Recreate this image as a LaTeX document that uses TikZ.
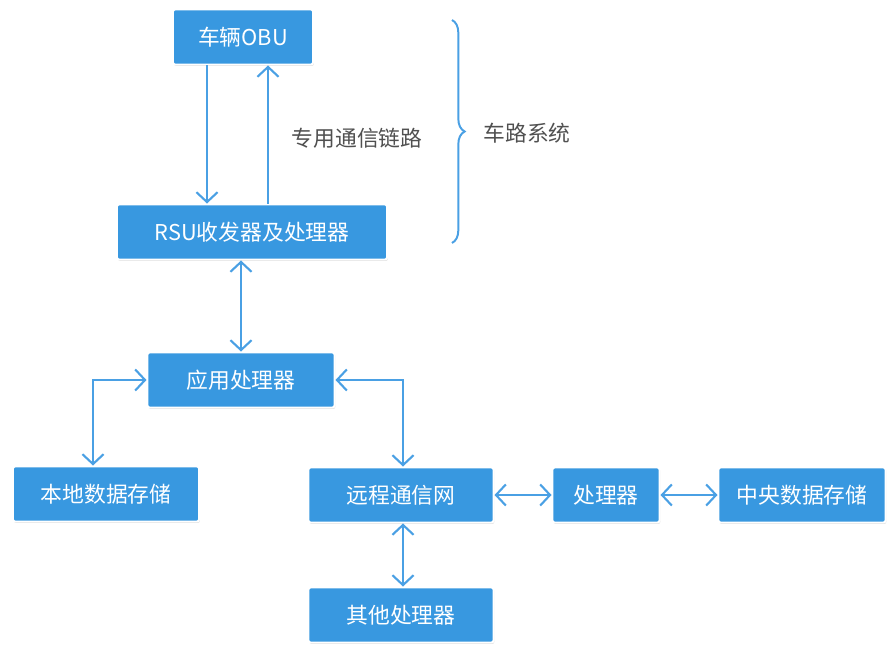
\documentclass[tikz,border=0pt]{standalone}
\usepackage{fontspec}
\newfontfamily\cjk{Noto Sans CJK SC}
\usetikzlibrary{arrows.meta,shadows,decorations.pathreplacing}
\definecolor{boxblue}{RGB}{56,152,224}
\definecolor{lineblue}{RGB}{74,160,228}
\definecolor{labelgray}{RGB}{80,80,80}
\begin{document}
\begin{tikzpicture}[
	x=0.025cm, y=-0.025cm,
	font=\cjk\fontsize{15.5}{18}\selectfont,
	block/.style = {draw=white, line width=1.4pt, fill=boxblue, text=white,
		rounded corners=1.5pt, minimum height=1.375cm, inner sep=2pt,
		drop shadow={shadow xshift=0.6pt, shadow yshift=-1pt, opacity=0.25}},
	link/.style = {draw=lineblue, line width=1.5pt,
		-{Straight Barb[length=7pt,width=15pt]}},
	both/.style = {link, {Straight Barb[length=7pt,width=15pt]}-{Straight Barb[length=7pt,width=15pt]}},
	note/.style = {text=labelgray},
	]
	\useasboundingbox (0,0) rectangle (895,650);
	% boxes
	\node[block, minimum width=3.5cm] (obu) at (243,37) {车辆OBU};
	\node[block, minimum width=6.75cm] (rsu) at (252,232) {RSU收发器及处理器};
	\node[block, minimum width=4.675cm] (app) at (241,380) {应用处理器};
	\node[block, minimum width=4.65cm] (local) at (106,494) {本地数据存储};
	\node[block, minimum width=4.625cm] (remote) at (401,495) {远程通信网};
	\node[block, minimum width=4.625cm] (other) at (401,615) {其他处理器};
	\node[block, minimum width=2.675cm] (proc) at (606,495) {处理器};
	\node[block, minimum width=4.175cm] (central) at (802,495) {中央数据存储};
	% labels
	\node[note] (dsrc) at (357,138) {专用通信链路};
	\node[note] (sys) at (527,133) {车路系统};
	\coordinate (bracetop) at (452,20);
	\coordinate (bracebot) at (452,243);
	% connectors
	\draw[link] (obu.south -| 207,0) -- (rsu.north -| 207,0);
	\draw[link] (rsu.north -| 268,0) -- (obu.south -| 268,0);
	\draw[both] (rsu.south -| app) -- (app.north);
	\draw[both] (app.west) -| (local.north -| 93,0);
	\draw[both] (app.east) -| (remote.north -| 403,0);
	\draw[both] (remote.south -| 403,0) -- (other.north -| 403,0);
	\draw[both] (remote.east) -- (proc.west);
	\draw[both] (proc.east) -- (central.west);
	\draw[draw=lineblue, line width=1.4pt,
		decorate, decoration={brace, amplitude=9pt}] (bracetop) -- (bracebot);
\end{tikzpicture}
\end{document}
